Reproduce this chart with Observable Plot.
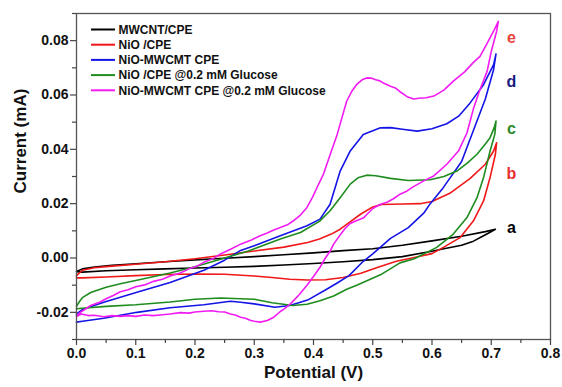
<!DOCTYPE html>
<html><head><meta charset="utf-8">
<script src="https://cdn.jsdelivr.net/npm/d3@7"></script>
<script src="https://cdn.jsdelivr.net/npm/@observablehq/plot@0.6"></script>
<style>
body{margin:0;background:#fff;}
#chart svg{font-family:"Liberation Sans",Arial,sans-serif;overflow:visible;}
</style></head><body><div id="chart"></div>
<script>
// ---- data (potential V, current mA) ----
const seriesNames = ["MWCNT/CPE","NiO /CPE","NiO-MWCMT CPE","NiO /CPE @0.2 mM Glucose","NiO-MWCMT CPE @0.2 mM Glucose"];
const labelNames = ["a","b","c","d","e"];
const labelY = [0.0112, 0.0308, 0.0476, 0.065, 0.081];
const labelX = 0.734;

const aFwd = [[0,-0.0050],[0.01,-0.0040],[0.03,-0.0033],[0.06,-0.0027],[0.1,-0.0021],[0.15,-0.0014],[0.2,-0.0007],[0.25,-0.0001],[0.3,0.0005],[0.35,0.0012],[0.4,0.0019],[0.45,0.0027],[0.5,0.0034],[0.55,0.0047],[0.6,0.0063],[0.65,0.0080],[0.69,0.0097],[0.707,0.0106]];
const aRev = [[0.707,0.0106],[0.698,0.0095],[0.687,0.0082],[0.67,0.0062],[0.65,0.0047],[0.62,0.0034],[0.6,0.0025],[0.55,0.0005],[0.5,-0.0006],[0.45,-0.0014],[0.4,-0.0020],[0.35,-0.0026],[0.3,-0.0031],[0.25,-0.0034],[0.2,-0.0037],[0.15,-0.0040],[0.1,-0.0043],[0.05,-0.0047],[0.01,-0.0052],[0,-0.0050]];

const bFwd = [[0,-0.0065],[0.01,-0.0045],[0.03,-0.0036],[0.06,-0.0030],[0.1,-0.0023],[0.15,-0.0014],[0.2,-0.0003],[0.25,0.0011],[0.3,0.0026],[0.35,0.0040],[0.39,0.0057],[0.41,0.0070],[0.43,0.0088],[0.445,0.0106],[0.46,0.0130],[0.48,0.0162],[0.5,0.0188],[0.515,0.0197],[0.55,0.0199],[0.58,0.0200],[0.6,0.0208],[0.63,0.0238],[0.664,0.0292],[0.69,0.0345],[0.704,0.0394],[0.709,0.0424]];
const bRev = [[0.709,0.0424],[0.707,0.0382],[0.698,0.0296],[0.687,0.0210],[0.67,0.0137],[0.648,0.0076],[0.62,0.0040],[0.6,0.0016],[0.57,0.0002],[0.54,-0.0012],[0.51,-0.0033],[0.48,-0.0056],[0.45,-0.0072],[0.42,-0.0080],[0.39,-0.0081],[0.36,-0.0078],[0.33,-0.0072],[0.3,-0.0066],[0.25,-0.0060],[0.2,-0.0059],[0.15,-0.0061],[0.1,-0.0065],[0.05,-0.0070],[0.01,-0.0073],[0,-0.0073]];

const dFwd = [[0,-0.0206],[0.01,-0.0190],[0.046,-0.0163],[0.102,-0.0126],[0.158,-0.0090],[0.215,-0.0045],[0.25,-0.0008],[0.277,0.0028],[0.3,0.0045],[0.344,0.0082],[0.389,0.0119],[0.411,0.0143],[0.428,0.0198],[0.445,0.0320],[0.462,0.0394],[0.484,0.0455],[0.513,0.0479],[0.53,0.0480],[0.55,0.0474],[0.575,0.0467],[0.6,0.0476],[0.625,0.0494],[0.645,0.0522],[0.664,0.0570],[0.687,0.0638],[0.704,0.0712],[0.708,0.0751]];
const dRev = [[0.708,0.0751],[0.704,0.0694],[0.69,0.0585],[0.67,0.0470],[0.65,0.0355],[0.619,0.0259],[0.597,0.0200],[0.586,0.0165],[0.56,0.0112],[0.53,0.0072],[0.5,0.0015],[0.484,-0.0012],[0.46,-0.0065],[0.44,-0.0092],[0.42,-0.0118],[0.39,-0.0155],[0.36,-0.0175],[0.335,-0.0181],[0.3,-0.0169],[0.277,-0.0163],[0.26,-0.0159],[0.215,-0.0172],[0.158,-0.0183],[0.102,-0.0200],[0.046,-0.0222],[0.01,-0.0233],[0,-0.0236]];

const cFwd = [[0,-0.0178],[0.005,-0.0160],[0.01,-0.0146],[0.024,-0.0127],[0.05,-0.0108],[0.074,-0.0095],[0.1,-0.0083],[0.158,-0.0055],[0.2,-0.0032],[0.25,0.0000],[0.29,0.0026],[0.344,0.0070],[0.378,0.0094],[0.41,0.0135],[0.428,0.0174],[0.445,0.0222],[0.462,0.0272],[0.475,0.0295],[0.49,0.0305],[0.505,0.0303],[0.53,0.0293],[0.56,0.0285],[0.597,0.0288],[0.62,0.0300],[0.642,0.0320],[0.66,0.0350],[0.676,0.0382],[0.69,0.0420],[0.698,0.0443],[0.705,0.0480],[0.708,0.0504]];
const cRev = [[0.708,0.0504],[0.706,0.0455],[0.698,0.0394],[0.687,0.0296],[0.676,0.0222],[0.659,0.0149],[0.636,0.0088],[0.608,0.0039],[0.57,-0.0003],[0.546,-0.0018],[0.513,-0.0062],[0.473,-0.0100],[0.456,-0.0115],[0.434,-0.0140],[0.411,-0.0157],[0.389,-0.0170],[0.365,-0.0175],[0.33,-0.0165],[0.3,-0.0152],[0.277,-0.0150],[0.243,-0.0147],[0.2,-0.0152],[0.158,-0.0162],[0.1,-0.0172],[0.05,-0.0178],[0.01,-0.0185],[0,-0.0187]];

const eFwd = [[0,-0.0212],[0.01,-0.0195],[0.024,-0.0175],[0.04,-0.0162],[0.05,-0.0150],[0.062,-0.0138],[0.074,-0.0124],[0.087,-0.0117],[0.1,-0.0106],[0.115,-0.0099],[0.13,-0.0086],[0.145,-0.0078],[0.158,-0.0066],[0.175,-0.0055],[0.19,-0.0040],[0.203,-0.0030],[0.215,-0.0016],[0.23,-0.0003],[0.243,0.0015],[0.26,0.0032],[0.277,0.0051],[0.293,0.0064],[0.31,0.0082],[0.322,0.0092],[0.333,0.0103],[0.344,0.0112],[0.356,0.0122],[0.366,0.0137],[0.378,0.0158],[0.389,0.0186],[0.398,0.0222],[0.405,0.0255],[0.417,0.0310],[0.428,0.0380],[0.44,0.0455],[0.456,0.0577],[0.465,0.0615],[0.473,0.0639],[0.482,0.0656],[0.49,0.0663],[0.498,0.0662],[0.505,0.0656],[0.512,0.0652],[0.518,0.0644],[0.53,0.0632],[0.538,0.0626],[0.546,0.0612],[0.558,0.0594],[0.569,0.0585],[0.578,0.0588],[0.59,0.0590],[0.603,0.0596],[0.62,0.0618],[0.636,0.0651],[0.655,0.0685],[0.67,0.0720],[0.681,0.0742],[0.693,0.0790],[0.705,0.0840],[0.712,0.0871]];
const eRev = [[0.712,0.0871],[0.709,0.0834],[0.7,0.0760],[0.693,0.0687],[0.681,0.0620],[0.67,0.0550],[0.659,0.0460],[0.645,0.0395],[0.625,0.0345],[0.603,0.0302],[0.586,0.0284],[0.568,0.0262],[0.558,0.0247],[0.546,0.0235],[0.535,0.0218],[0.524,0.0205],[0.512,0.0197],[0.5,0.0182],[0.49,0.0160],[0.484,0.0147],[0.472,0.0137],[0.462,0.0127],[0.453,0.0108],[0.445,0.0085],[0.434,0.0051],[0.428,0.0025],[0.42,0.0000],[0.411,-0.0034],[0.4,-0.0068],[0.389,-0.0100],[0.375,-0.0137],[0.361,-0.0169],[0.35,-0.0188],[0.344,-0.0197],[0.333,-0.0218],[0.322,-0.0230],[0.31,-0.0236],[0.3,-0.0233],[0.293,-0.0229],[0.285,-0.0222],[0.277,-0.0218],[0.268,-0.0210],[0.26,-0.0206],[0.25,-0.0199],[0.24,-0.0198],[0.228,-0.0194],[0.215,-0.0196],[0.2,-0.0199],[0.19,-0.0203],[0.175,-0.0201],[0.158,-0.0206],[0.145,-0.0209],[0.13,-0.0212],[0.115,-0.0210],[0.1,-0.0215],[0.087,-0.0212],[0.074,-0.0215],[0.06,-0.0212],[0.046,-0.0216],[0.03,-0.0211],[0.02,-0.0212],[0.008,-0.0206],[0,-0.0216]];

const xTicks = [0,0.1,0.2,0.3,0.4,0.5,0.6,0.7,0.8];
const xMinor = [0.05,0.15,0.25,0.35,0.45,0.55,0.65,0.75];
const yTicks = [-0.02,0,0.02,0.04,0.06,0.08];
const yMinor = [-0.03,-0.01,0.01,0.03,0.05,0.07,0.09];

// ---- styles ----
const colors = ["#000000","#f01818","#1414e6","#1e8c1e","#f21cf2"];
const labelColors = ["#000000","#e83030","#2a8a2a","#1a1a80","#e8443c"];

const loops = [aFwd.concat(aRev), bFwd.concat(bRev), dFwd.concat(dRev), cFwd.concat(cRev), eFwd.concat(eRev)];
const rows = [];
loops.forEach((pts, i) => pts.forEach(([v, c]) => rows.push({series: i, V: v, I: c})));
const labels = labelNames.map((n, i) => ({name: n, V: labelX, I: labelY[i], color: labelColors[i]}));

const lineMarks = loops.map((_, i) => Plot.line(rows.filter(r => r.series === i), {x: "V", y: "I", stroke: colors[i], strokeWidth: 1.6, curve: "linear"}));

const fmt2 = d => d.toFixed(2);
const fmt1 = d => d.toFixed(1);

const chart = Plot.plot({
  width: 562, height: 387,
  marginLeft: 76, marginRight: 12, marginTop: 13, marginBottom: 48,
  style: {fontFamily: "'Liberation Sans', Arial, sans-serif", background: "#fff"},
  x: {domain: [0, 0.8]},
  y: {domain: [-0.03, 0.09]},
  marks: [
    ...lineMarks,
    Plot.frame({stroke: "#555", strokeWidth: 1.3}),
    Plot.axisX({ticks: xTicks, tickFormat: fmt1, tickSize: 6, tickPadding: 3, label: null, fontSize: 14, fontWeight: "bold", stroke: "#444", strokeWidth: 1.2, fill: "#111"}),
    Plot.axisX({ticks: xMinor, tickFormat: () => "", tickSize: 4, label: null, stroke: "#444", strokeWidth: 1.2}),
    Plot.axisY({ticks: yTicks, tickFormat: fmt2, tickSize: 6, tickPadding: 2, label: null, fontSize: 14, fontWeight: "bold", stroke: "#444", strokeWidth: 1.2, fill: "#111"}),
    Plot.axisY({ticks: yMinor, tickFormat: () => "", tickSize: 4, label: null, stroke: "#444", strokeWidth: 1.2}),
    Plot.text(["Potential (V)"], {frameAnchor: "bottom", dy: 38, text: d => d, fontSize: 17, fontWeight: "bold", fill: "#111"}),
    Plot.text(["Current (mA)"], {frameAnchor: "left", dx: -56, dy: 17, rotate: -90, text: d => d, fontSize: 17, fontWeight: "bold", fill: "#111"}),
    Plot.text(labels, {x: "V", y: "I", text: "name", fill: "color", fontSize: 16, fontWeight: "bold"})
  ]
});
document.getElementById("chart").appendChild(chart);

// legend inside the frame (top-left)
const svg = d3.select(chart);
const lg = svg.append("g").attr("font-size", 12).attr("font-weight", "bold").attr("text-anchor", "start").attr("font-family", "'Liberation Sans', Arial, sans-serif");
seriesNames.forEach((name, i) => {
  const y = 29.5 + i * 15.2;
  lg.append("line").attr("x1", 91).attr("x2", 115).attr("y1", y).attr("y2", y).attr("stroke", colors[i]).attr("stroke-width", 2);
  lg.append("text").attr("x", 118.5).attr("y", y).attr("dy", "0.35em").attr("text-anchor", "start").attr("fill", "#111").text(name);
});
</script></body></html>
